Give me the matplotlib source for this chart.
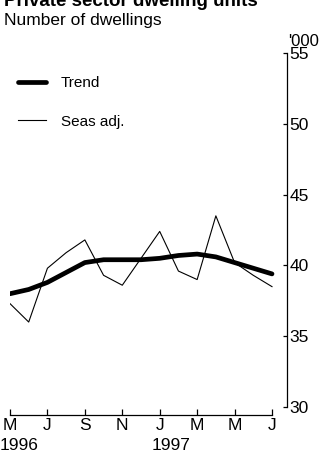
import matplotlib
matplotlib.use("Agg")
import matplotlib.pyplot as plt

months = ["May 96", "Jun 96", "Jul 96", "Aug 96", "Sep 96", "Oct 96", "Nov 96",
          "Dec 96", "Jan 97", "Feb 97", "Mar 97", "Apr 97", "May 97", "Jun 97", "Jul 97"]
seas_adj = [37.3, 36.0, 39.8, 40.9, 41.8, 39.3, 38.6, 40.5, 42.4, 39.6, 39.0, 43.5, 40.2, 39.3, 38.5]
trend = [38.0, 38.3, 38.8, 39.5, 40.2, 40.4, 40.4, 40.4, 40.5, 40.7, 40.8, 40.6, 40.2, 39.8, 39.4]
tick_labels = ["M", "J", "S", "N", "J", "M", "M", "J"]
year_labels = ["1996", "1997"]
y_ticks = [30, 35, 40, 45, 50, 55]

plt.rcParams['font.family'] = ['Liberation Sans', 'DejaVu Sans']

W, H = 331, 457
fig = plt.figure(figsize=(W / 100, H / 100), dpi=100)
left, right, top, bottom = 10, 287, 53, 407
ax = fig.add_axes([left / W, (H - bottom) / H, (right - left) / W, (bottom - top) / H])

x = list(range(len(months)))
ax.plot(x, trend, color="black", lw=3.4, solid_capstyle="round", solid_joinstyle="round",
        label="Trend")
ax.plot(x, seas_adj, color="black", lw=0.8, label="Seas adj.")

px_per_month = (272 - left) / 14
ax.set_xlim(0, (right - left) / px_per_month)
ax.set_ylim(30, 55)

for s in ["top", "left"]:
    ax.spines[s].set_visible(False)
ax.spines["right"].set_linewidth(0.9)
ax.spines["bottom"].set_linewidth(0.9)
ax.spines["bottom"].set_position(("outward", 6))
ax.spines["bottom"].set_bounds(0, 14)

ax.yaxis.tick_right()
ax.set_yticks(y_ticks)
ax.set_yticklabels([str(v) for v in y_ticks])
ax.tick_params(axis="y", direction="in", length=3, width=0.9, pad=2, labelsize=12.5)

ax.set_xticks(list(range(0, 15, 2)))
ax.set_xticklabels(tick_labels)
ax.tick_params(axis="x", direction="in", length=4, width=0.9, pad=2, labelsize=12.5)

# year labels
fig.text(0 / W, 1 - 445 / H, year_labels[0], ha="left", va="center", fontsize=12.5)
fig.text(152 / W, 1 - 445 / H, year_labels[1], ha="left", va="center", fontsize=12.5)

# units
fig.text(288 / W, 1 - 41 / H, "'000", ha="left", va="center", fontsize=12)

# titles
fig.text(4 / W, 1 - 1 / H, "Private sector dwelling units", ha="left", va="center",
         fontsize=13.5, fontweight="bold")
fig.text(4 / W, 1 - 20 / H, "Number of dwellings", ha="left", va="center", fontsize=12.5)

leg = ax.legend(loc="upper left", bbox_to_anchor=(12 / W, 1 - 70 / H),
                bbox_transform=fig.transFigure, frameon=False, fontsize=11,
                handlelength=1.8, handletextpad=1.0, labelspacing=1.6, borderaxespad=0)

fig.savefig("out.png", dpi=100)
